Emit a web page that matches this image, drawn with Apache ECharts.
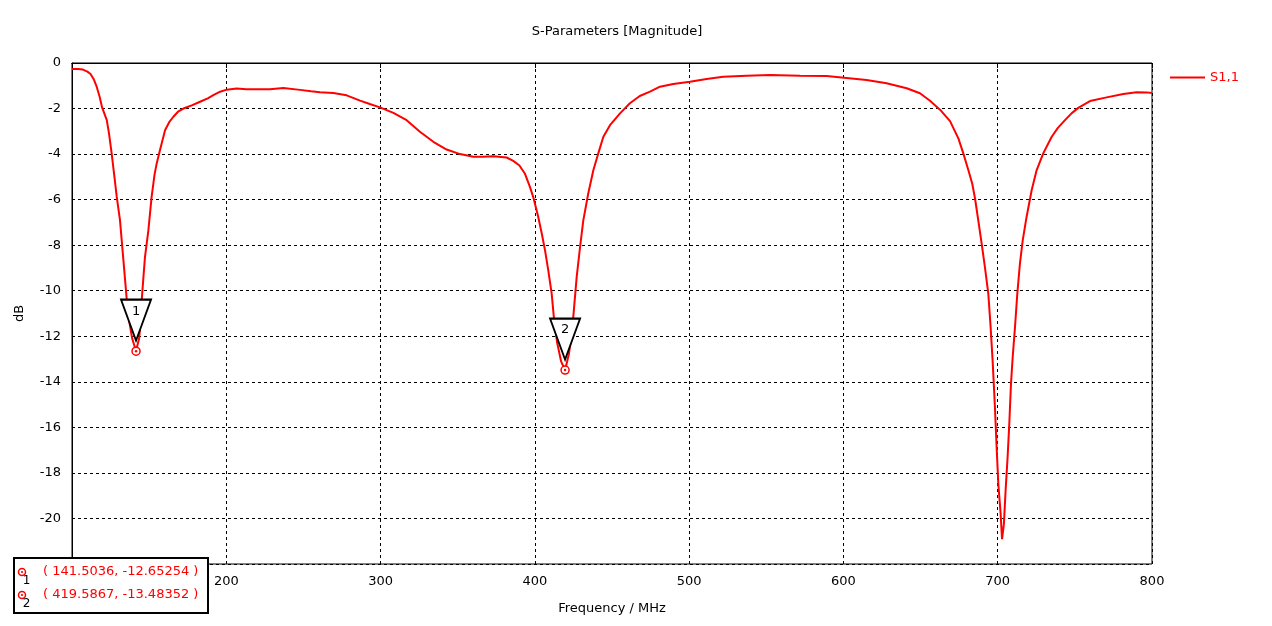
<!DOCTYPE html>
<html>
<head>
<meta charset="utf-8">
<script src="https://cdn.jsdelivr.net/npm/echarts@6/dist/echarts.min.js"></script>
<style>
html,body{margin:0;padding:0;background:#fff;}
#chart{width:1272px;height:626px;}
</style>
</head>
<body>
<div id="chart"></div>
<script>
// ---- data ----
var freq = [100,104,107,110,112,114,116,118,119.5,122.5,124,125.7,127.5,129,131.1,133,134.5,135.5,137,139,141.5,143.5,144.5,145.2,146.3,147.3,149.5,151.6,153.5,154.9,157,160.3,163,165.7,169,172.2,178,183,188,191.6,196,200.3,206.7,213,220,228.3,237,247.8,255,260.7,269.4,278,286.7,293,299.6,308.3,316.9,325.5,334.2,342.8,351.5,360.1,366,373.1,381.7,386,390,393.5,396.8,399,402.2,404.5,406.6,408.7,410.9,412.5,414.5,417,419.6,422,423.5,424.9,427.1,429.3,431.4,434.6,437.9,441.1,444.4,448.7,455.2,461.6,468,474.6,481.1,489.7,500.5,511.3,522.1,537.3,552.4,571.8,589.1,602.1,615,628,641,649.6,656.1,662.6,669.1,674.5,677.7,681,683.5,685.3,687.4,689.6,691.7,693.9,695.4,696.7,698.2,699.3,700.4,701.9,702.8,703.4,704,705.1,706.4,707.5,708.6,709.7,711.2,712.7,714.4,716.2,718.7,722,725.2,729.5,735,739,743.6,748,752.2,759.8,770.6,781.4,790,796.5,800];
var s11 = [-0.26,-0.26,-0.29,-0.38,-0.48,-0.7,-1.04,-1.5,-1.95,-2.5,-3.1,-3.97,-5.0,-5.88,-6.9,-8.4,-9.6,-10.4,-11.3,-12.1,-12.65,-12.1,-11.3,-10.4,-9.4,-8.52,-7.35,-5.88,-4.9,-4.41,-3.83,-2.95,-2.6,-2.36,-2.12,-2.0,-1.85,-1.7,-1.55,-1.41,-1.26,-1.17,-1.12,-1.15,-1.15,-1.15,-1.10,-1.18,-1.24,-1.28,-1.32,-1.42,-1.65,-1.8,-1.95,-2.19,-2.51,-3.02,-3.46,-3.80,-4.00,-4.12,-4.12,-4.09,-4.15,-4.3,-4.5,-4.85,-5.44,-5.9,-6.76,-7.5,-8.23,-9.11,-10.13,-11.3,-12.3,-13.1,-13.48,-12.8,-12.1,-11.16,-9.4,-8.08,-6.91,-5.73,-4.71,-3.97,-3.24,-2.73,-2.21,-1.77,-1.45,-1.26,-1.04,-0.92,-0.82,-0.70,-0.60,-0.56,-0.53,-0.56,-0.57,-0.66,-0.75,-0.89,-1.11,-1.33,-1.66,-2.05,-2.55,-3.31,-3.97,-4.71,-5.3,-5.95,-6.91,-7.93,-8.96,-10.13,-11.6,-13.07,-15.12,-16.88,-18.49,-19.81,-20.91,-20.91,-20.25,-18.79,-17.32,-15.85,-14.09,-12.92,-11.6,-10.13,-8.81,-7.79,-6.76,-5.59,-4.71,-3.97,-3.24,-2.85,-2.51,-2.2,-1.97,-1.67,-1.51,-1.36,-1.28,-1.29,-1.32];
var markerNames = ['1','2'];
var markerFreq = [141.5036, 419.5867];
var markerVal = [-12.65254, -13.48352];
var seriesName = 'S1,1';

var FONT = 'DejaVu Sans';
var RED = '#ff0000';

var chart = echarts.init(document.getElementById('chart'));

var points = freq.map(function(f,i){return [f, s11[i]];});

var mpData = [];
markerFreq.forEach(function(f,i){
  mpData.push({
    coord:[f, markerVal[i]],
    symbol:'circle', symbolSize:8,
    itemStyle:{color:'#fff', borderColor:RED, borderWidth:1.5},
    label:{show:false}
  });
  mpData.push({
    coord:[f, markerVal[i]],
    symbol:'circle', symbolSize:2.5,
    itemStyle:{color:RED, borderWidth:0},
    label:{show:false}
  });
  mpData.push({
    coord:[f, markerVal[i]],
    symbol:'path://M0,0L30,0L15,41Z', symbolSize:[30,41], symbolOffset:[0,-31],
    itemStyle:{color:'#fff', borderColor:'#000', borderWidth:2},
    label:{show:true, formatter:markerNames[i], color:'#000', fontFamily:FONT, fontSize:13, position:'inside', offset:[0,-9]}
  });
});

var graphics = [
  {type:'rect', left:13, top:557, z:100, shape:{width:194, height:55}, style:{fill:'#fff', stroke:'#000', lineWidth:2}}
];
markerFreq.forEach(function(f,i){
  var cy = 572 + i*23;
  graphics.push({type:'circle', z:101, shape:{cx:22, cy:cy, r:3.5}, style:{fill:'#fff', stroke:RED, lineWidth:1.5}});
  graphics.push({type:'circle', z:101, shape:{cx:22, cy:cy, r:1.1}, style:{fill:RED}});
  graphics.push({type:'text', z:101, x:26.5, y:cy+9, style:{text:markerNames[i], fill:'#000', font:'12px '+FONT, textAlign:'center', textVerticalAlign:'middle'}});
  graphics.push({type:'text', z:101, x:43, y:cy, style:{text:'( ' + f.toFixed(4) + ', ' + markerVal[i].toFixed(5) + ' )', fill:RED, font:'13px '+FONT, textAlign:'left', textVerticalAlign:'middle'}});
});

chart.setOption({
  animation:false,
  backgroundColor:'#fff',
  title:{
    text:'S-Parameters [Magnitude]',
    left:612, top:20, textAlign:'center',
    textStyle:{fontFamily:FONT, fontSize:13, fontWeight:'normal', color:'#000'}
  },
  legend:{
    left:1165, top:66,
    icon:'rect', itemWidth:35, itemHeight:2, itemGap:5,
    data:[seriesName],
    textStyle:{color:RED, fontFamily:FONT, fontSize:13}
  },
  grid:{left:72, right:120, top:63, bottom:62, show:true, borderColor:'#000', borderWidth:1, backgroundColor:'#fff'},
  xAxis:[{
    type:'value', min:100, max:800, interval:100,
    name:'Frequency / MHz', nameLocation:'middle', nameGap:38,
    nameTextStyle:{fontFamily:FONT, fontSize:13, color:'#000'},
    axisLine:{show:true, lineStyle:{color:'#000', width:1}},
    axisTick:{show:true, length:5, lineStyle:{color:'#000'}},
    axisLabel:{margin:11, fontFamily:FONT, fontSize:13, color:'#000'},
    splitLine:{show:true, lineStyle:{color:'#000', type:[3,3], width:1}}
  },{
    type:'value', min:100, max:800, interval:100, position:'top',
    axisLine:{show:true, lineStyle:{color:'#000', width:1}},
    axisTick:{show:true, inside:true, length:5, lineStyle:{color:'#000'}},
    axisLabel:{show:false},
    splitLine:{show:false}
  }],
  yAxis:{
    type:'value', min:-22, max:0, interval:2,
    name:'dB', nameLocation:'middle', nameGap:46, nameRotate:90,
    nameTextStyle:{fontFamily:FONT, fontSize:13, color:'#000'},
    axisLine:{show:true, lineStyle:{color:'#000', width:1}},
    axisTick:{show:false},
    axisLabel:{margin:11, fontFamily:FONT, fontSize:13, color:'#000'},
    splitLine:{show:true, lineStyle:{color:'#000', type:[3,3], width:1}}
  },
  series:[{
    name:seriesName, type:'line', xAxisIndex:0, data:points,
    showSymbol:false, symbol:'none',
    lineStyle:{color:RED, width:2}, itemStyle:{color:RED},
    markPoint:{data:mpData, animation:false}
  }],
  graphic:graphics
});
</script>
</body>
</html>
